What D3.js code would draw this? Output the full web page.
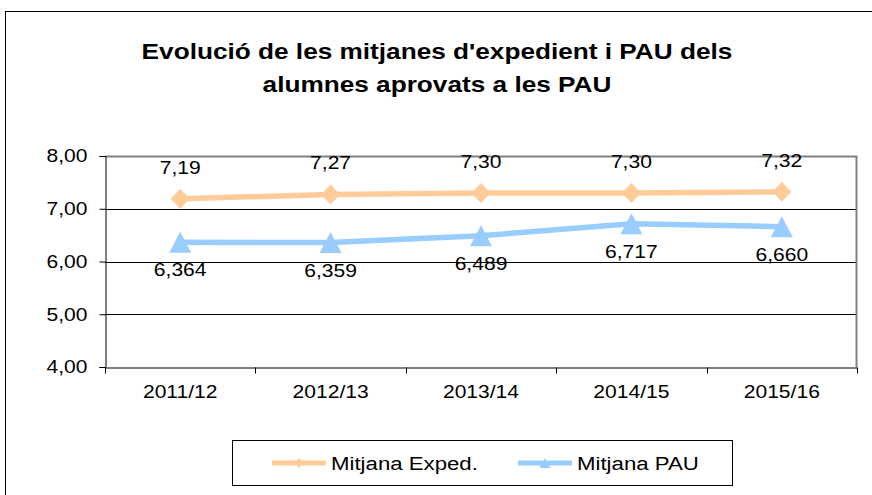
<!DOCTYPE html>
<html>
<head>
<meta charset="utf-8">
<script src="https://cdn.jsdelivr.net/npm/d3@7"></script>
<style>
  body { margin: 0; background: #fff; }
  svg { font-family: "Liberation Sans", Arial, sans-serif; }
</style>
</head>
<body>
<svg id="chart" width="872" height="495"></svg>
<script>
// Chart data
const years = ['2011/12', '2012/13', '2013/14', '2014/15', '2015/16'];
const mitjanaExped = [7.19, 7.27, 7.30, 7.30, 7.32];
const mitjanaPAU = [6.364, 6.359, 6.489, 6.717, 6.660];
const yTicks = [4, 5, 6, 7, 8];

// the source image text is slightly wider than plain Arial
const SX = 1.17;
function stretch(sel) {
    sel.each(function() {
        const t = d3.select(this);
        const xv = +t.attr('x') || 0;
        t.attr('x', xv / SX).attr('transform', `scale(${SX},1)`);
    });
}

const svg = d3.select('#chart');

// Outer chart frame
svg.append('rect')
    .attr('x', 5.5).attr('y', 11.5)
    .attr('width', 880).attr('height', 500)
    .attr('fill', '#fff')
    .attr('stroke', '#000')
    .attr('stroke-width', 1);

// Title
const titleLines = ["Evolució de les mitjanes d'expedient i PAU dels", 'alumnes aprovats a les PAU'];
svg.append('g')
    .selectAll('text')
    .data(titleLines)
    .join('text')
    .attr('x', 437)
    .attr('y', (d, i) => 59 + i * 33)
    .attr('text-anchor', 'middle')
    .attr('font-size', '22.4px')
    .attr('font-weight', 'bold')
    .attr('fill', '#000')
    .text(d => d)
    .call(stretch);

const plot = { left: 105, right: 857, top: 156, bottom: 367 };

const x = d3.scaleBand()
    .domain(years)
    .range([plot.left, plot.right]);

const y = d3.scaleLinear()
    .domain([4, 8])
    .range([plot.bottom, plot.top]);

// Gridlines
svg.append('g')
    .selectAll('line')
    .data(yTicks.filter(d => d > 4 && d < 8))
    .join('line')
    .attr('x1', plot.left).attr('x2', plot.right)
    .attr('y1', d => Math.round(y(d)) + 0.5)
    .attr('y2', d => Math.round(y(d)) + 0.5)
    .attr('stroke', '#000')
    .attr('stroke-width', 1);

// Plot area border (top/right grey)
svg.append('path')
    .attr('d', `M${plot.left},${plot.top + 0.5}H${plot.right - 0.5}V${plot.bottom}`)
    .attr('fill', 'none')
    .attr('stroke', '#808080')
    .attr('stroke-width', 2);

// Y axis
const yAxis = svg.append('g')
    .attr('transform', `translate(${plot.left + 0.5},0)`)
    .call(d3.axisLeft(y).tickValues(yTicks).tickSize(6).tickPadding(12)
        .tickFormat(d => d3.format('.2f')(d).replace('.', ',')));
yAxis.selectAll('text')
    .attr('font-size', '18px').attr('fill', '#000')
    .attr('font-family', 'Liberation Sans, Arial, sans-serif')
    .call(stretch);
yAxis.selectAll('line, path').attr('stroke', '#000');

// X axis
const xAxis = svg.append('g')
    .attr('transform', `translate(0,${plot.bottom + 0.5})`)
    .call(d3.axisBottom(x).tickSize(0).tickPadding(18));
xAxis.selectAll('text')
    .attr('font-size', '18px').attr('fill', '#000')
    .attr('font-family', 'Liberation Sans, Arial, sans-serif')
    .call(stretch);
xAxis.selectAll('path').attr('stroke', '#000');
// category boundary ticks
xAxis.append('g')
    .selectAll('line')
    .data(d3.range(years.length + 1))
    .join('line')
    .attr('x1', i => Math.round(plot.left + i * x.step()) + 0.5)
    .attr('x2', i => Math.round(plot.left + i * x.step()) + 0.5)
    .attr('y1', 0).attr('y2', 6)
    .attr('stroke', '#000');

const cx = d => x(d) + x.bandwidth() / 2;

// marker shapes
const diamond = (w, h) => `M0,${-h / 2}L${w / 2},0L0,${h / 2}L${-w / 2},0Z`;
const triangle = (w, h) => `M0,${-h / 2}L${w / 2},${h / 2}L${-w / 2},${h / 2}Z`;

const series = [
    { name: 'Mitjana Exped.', values: mitjanaExped, color: '#FFCC99', marker: diamond, fmt: d3.format('.2f'), dy: -25 },
    { name: 'Mitjana PAU', values: mitjanaPAU, color: '#99CCFF', marker: triangle, fmt: d3.format('.3f'), dy: 34 }
];

const line = d3.line().x(d => cx(d.year)).y(d => y(d.value));

series.forEach(s => {
    const pts = years.map((yr, i) => ({ year: yr, value: s.values[i] }));
    svg.append('path')
        .datum(pts)
        .attr('d', line)
        .attr('fill', 'none')
        .attr('stroke', s.color)
        .attr('stroke-width', 5.5);
    svg.append('g')
        .selectAll('path')
        .data(pts)
        .join('path')
        .attr('transform', d => `translate(${cx(d.year)},${y(d.value)})`)
        .attr('d', s.marker === diamond ? diamond(19, 20) : triangle(22, 21))
        .attr('fill', s.color);
    svg.append('g')
        .selectAll('text')
        .data(pts)
        .join('text')
        .attr('x', d => cx(d.year))
        .attr('y', d => y(d.value) + s.dy)
        .attr('text-anchor', 'middle')
        .attr('font-size', '18px')
        .attr('fill', '#000')
        .text(d => s.fmt(d.value).replace('.', ','))
        .call(stretch);
});

// Legend
const legend = svg.append('g');
legend.append('rect')
    .attr('x', 232.5).attr('y', 440.5)
    .attr('width', 500).attr('height', 45)
    .attr('fill', '#fff')
    .attr('stroke', '#000');
const legendItems = [
    { s: series[0], x0: 272, tx: 331 },
    { s: series[1], x0: 518, tx: 577 }
];
legendItems.forEach(item => {
    legend.append('line')
        .attr('x1', item.x0).attr('x2', item.x0 + 54)
        .attr('y1', 463).attr('y2', 463)
        .attr('stroke', item.s.color)
        .attr('stroke-width', 5);
    legend.append('path')
        .attr('transform', `translate(${item.x0 + 27},463)`)
        .attr('d', item.s.marker === diamond ? diamond(9, 10) : triangle(11, 10))
        .attr('fill', item.s.color);
    legend.append('text')
        .attr('x', item.tx).attr('y', 470)
        .attr('font-size', '19px')
        .attr('fill', '#000')
        .text(item.s.name)
        .call(stretch);
});
</script>
</body>
</html>
